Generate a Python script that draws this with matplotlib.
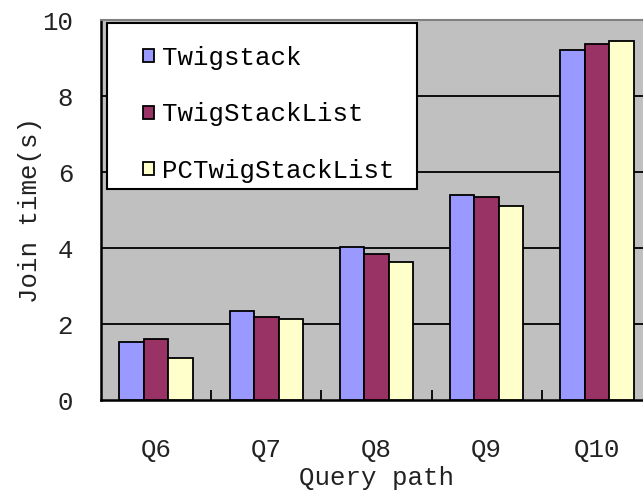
import matplotlib
matplotlib.use("Agg")
import matplotlib.pyplot as plt
import numpy as np
from matplotlib.patches import Rectangle
from matplotlib.ticker import FixedLocator

categories = ["Q6", "Q7", "Q8", "Q9", "Q10"]
series_names = ["Twigstack", "TwigStackList", "PCTwigStackList"]
twigstack = [1.53, 2.35, 4.03, 5.39, 9.21]
twigstacklist = [1.60, 2.19, 3.84, 5.33, 9.37]
pctwigstacklist = [1.10, 2.12, 3.64, 5.11, 9.46]
y_ticks = [0, 2, 4, 6, 8, 10]

colors = ["#9999FF", "#993366", "#FFFFCC"]
font = "Liberation Mono"
fs = 18.5

fig = plt.figure(figsize=(6.43, 4.96), dpi=100)
# axes box in pixels: x 101..652 (runs past the right edge), y 20..400
ax_w, ax_h = 551, 380
ax = fig.add_axes([101 / 643, 1 - 400 / 496, ax_w / 643, ax_h / 496])
ax.set_facecolor("#C0C0C0")

x = np.arange(len(categories))
w = 0.222
for i, (vals, name) in enumerate(zip([twigstack, twigstacklist, pctwigstacklist], series_names)):
    ax.bar(x + (i - 1) * w, vals, width=w, color=colors[i], edgecolor="black",
           linewidth=1.3, label=name, zorder=3)

ax.set_xlim(-0.5, len(categories) - 0.5)
ax.set_ylim(0, 10)
ax.set_yticks(y_ticks)
ax.set_yticklabels([str(t) for t in y_ticks], fontfamily=font, fontsize=fs)
ax.set_xticks(x)
ax.set_xticklabels(categories, fontfamily=font, fontsize=fs)
ax.tick_params(axis="y", length=0, pad=20, colors="#222222")
ax.tick_params(axis="x", length=0, pad=27, colors="#222222")
ax.xaxis.set_minor_locator(FixedLocator(x[:-1] + 0.5))
ax.tick_params(axis="x", which="minor", direction="in", length=7, width=1.3, color="black")

for y in y_ticks[1:-1]:
    ax.axhline(y, color="black", linewidth=1.3, zorder=1)

ax.spines["left"].set_linewidth(1.8)
ax.spines["bottom"].set_linewidth(1.8)
ax.spines["top"].set_color("#808080")
ax.spines["top"].set_linewidth(1.5)
ax.spines["right"].set_visible(False)

ax.set_xlabel("Query path", fontfamily=font, fontsize=fs, labelpad=3, color="#222222")
ax.set_ylabel("Join time(s)", fontfamily=font, fontsize=fs, labelpad=0, color="#222222")

# legend frame drawn as its own box, legend entries placed inside it
frame = Rectangle((6 / ax_w, (400 - 189) / ax_h), 310 / ax_w, 166 / ax_h,
                  transform=ax.transAxes, facecolor="white", edgecolor="black",
                  linewidth=1.5, zorder=5)
ax.add_patch(frame)
leg = ax.legend(loc="upper left", bbox_to_anchor=(42 / ax_w, (400 - 46) / ax_h),
                prop={"family": font, "size": fs}, handlelength=0.42,
                handleheight=0.42, handletextpad=0.33, labelspacing=1.26,
                borderpad=0, borderaxespad=0, frameon=False)
leg.set_zorder(6)

fig.savefig("out.png", dpi=100)
